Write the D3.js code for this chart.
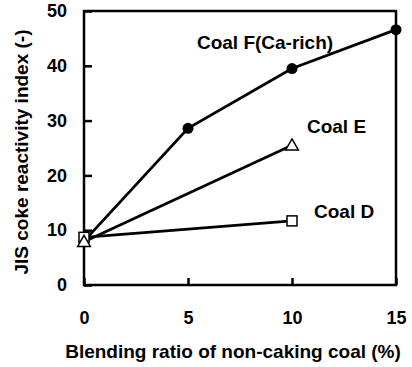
<!DOCTYPE html>
<html>
<head>
<meta charset="utf-8">
<script src="https://cdn.jsdelivr.net/npm/d3@7"></script>
<style>
  body { margin: 0; background: #fff; }
  text { font-family: "Liberation Sans", Arial, sans-serif; font-weight: bold; fill: #000; }
</style>
</head>
<body>
<div id="chart"></div>
<script>
// blending ratio (%) on x, JIS coke reactivity index on y
const ratioF = [0, 5, 10, 15];
const coalF  = [8.0, 28.6, 39.5, 46.6];
const ratioE = [0, 10];
const coalE  = [7.9, 25.5];
const ratioD = [0, 10];
const coalD  = [8.7, 11.7];

const xTicks = [0, 5, 10, 15];
const yTicks = [0, 10, 20, 30, 40, 50];

let w = 412, h = 367;
let m = {top: 11, right: 16, bottom: 82, left: 84};

let svg = d3.select('#chart').append('svg').attr('width', w).attr('height', h);

let x = d3.scaleLinear().domain([0, 15]).range([m.left, w - m.right]);
let y = d3.scaleLinear().domain([0, 50]).range([h - m.bottom, m.top]);

// axes, ticks pointing inward
let yAxis = svg.append('g')
    .attr('transform', 'translate(' + m.left + ',0)')
    .call(d3.axisLeft(y).tickValues(yTicks).tickSizeInner(-8).tickSizeOuter(0).tickPadding(17));
let xAxis = svg.append('g')
    .attr('transform', 'translate(0,' + (h - m.bottom) + ')')
    .call(d3.axisBottom(x).tickValues(xTicks).tickSizeInner(-7).tickSizeOuter(0).tickPadding(26));

[yAxis, xAxis].forEach(a => {
    a.select('.domain').remove();
    a.selectAll('line').attr('stroke', '#000').attr('stroke-width', 2.5);
    a.selectAll('text').attr('font-size', 18).attr('font-family', null);
});

// frame
svg.append('rect')
    .attr('x', x(0)).attr('y', y(50))
    .attr('width', x(15) - x(0)).attr('height', y(0) - y(50))
    .attr('fill', 'none').attr('stroke', '#000').attr('stroke-width', 2.5);

let line = d3.line().x(d => x(d[0])).y(d => y(d[1]));

let series = [
    {name: 'F', xs: ratioF, ys: coalF},
    {name: 'E', xs: ratioE, ys: coalE},
    {name: 'D', xs: ratioD, ys: coalD}
];

series.forEach(s => {
    s.pts = s.xs.map((v, i) => [v, s.ys[i]]);
    svg.append('path')
        .attr('d', line(s.pts))
        .attr('fill', 'none').attr('stroke', '#000').attr('stroke-width', 2.8);
});

// markers
svg.selectAll('circle.f').data(series[0].pts).enter().append('circle')
    .attr('class', 'f')
    .attr('cx', d => x(d[0])).attr('cy', d => y(d[1])).attr('r', 5.5)
    .attr('fill', '#000');

svg.selectAll('rect.d').data(series[2].pts).enter().append('rect')
    .attr('class', 'd')
    .attr('x', d => x(d[0]) - 5).attr('y', d => y(d[1]) - 5)
    .attr('width', 10).attr('height', 10)
    .attr('fill', '#fff').attr('stroke', '#000').attr('stroke-width', 1.5);

let tri = d3.symbol().type(d3.symbolTriangle).size(70);
svg.selectAll('path.e').data(series[1].pts).enter().append('path')
    .attr('class', 'e')
    .attr('d', tri)
    .attr('transform', d => 'translate(' + x(d[0]) + ',' + (y(d[1]) + 1) + ')')
    .attr('fill', '#fff').attr('stroke', '#000').attr('stroke-width', 1.5);

// series labels
let labels = [
    {text: 'Coal F(Ca-rich)', at: [5.43, 43.1]},
    {text: 'Coal E', at: [10.72, 27.7]},
    {text: 'Coal D', at: [11.06, 12.2]}
];
svg.selectAll('text.lab').data(labels).enter().append('text')
    .attr('class', 'lab')
    .attr('x', d => x(d.at[0])).attr('y', d => y(d.at[1]))
    .attr('font-size', 19)
    .text(d => d.text);

// axis titles
svg.append('text')
    .attr('x', 233).attr('y', 358)
    .attr('text-anchor', 'middle').attr('font-size', 19)
    .text('Blending ratio of non-caking coal (%)');

svg.append('text')
    .attr('transform', 'translate(28,152) rotate(-90)')
    .attr('text-anchor', 'middle').attr('font-size', 19)
    .text('JIS coke reactivity index (-)');
</script>
</body>
</html>
